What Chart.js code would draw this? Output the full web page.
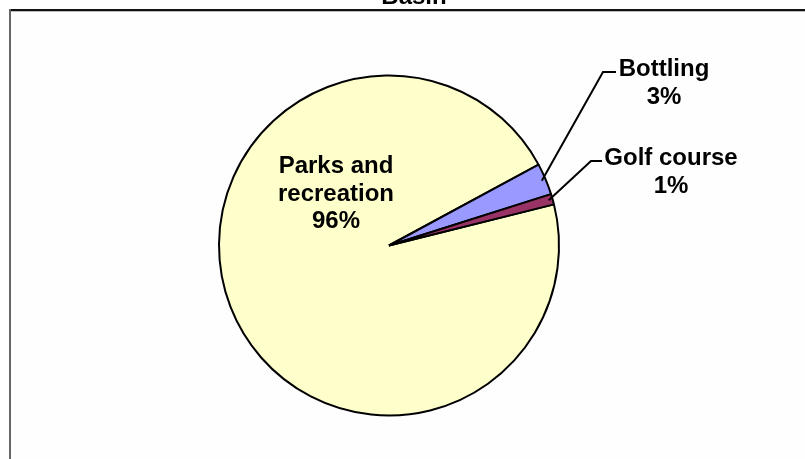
<!DOCTYPE html>
<html>
<head>
<meta charset="utf-8">
<script src="https://cdn.jsdelivr.net/npm/chart.js@4/dist/chart.umd.min.js"></script>
<style>
  html, body { margin: 0; padding: 0; background: #ffffff; }
  #wrap { position: relative; width: 805px; height: 459px; }
</style>
</head>
<body>
<div id="wrap"><canvas id="pieChart" width="805" height="459"></canvas></div>
<script>
// data
const titleText = 'Basin';
const categories = ['Parks and recreation', 'Bottling', 'Golf course'];
const shares = [96, 3, 1];
const sliceColors = ['#FFFFCC', '#9999FF', '#993366'];

// label layout: text lines, text centre and leader elbow (x, y)
const labelLayout = [
    { lines: ['Parks and', 'recreation', '96%'], x: 336, y: 173, leader: null },
    { lines: ['Bottling', '3%'], x: 664, y: 76, leader: { x: 603, y: 72, endX: 616 } },
    { lines: ['Golf course', '1%'], x: 671, y: 165, leader: { x: 591, y: 161, endX: 602 } }
];

const frame = {
    id: 'frame',
    beforeDraw(chart) {
        const ctx = chart.ctx;
        ctx.save();
        ctx.fillStyle = '#fefefe';
        ctx.fillRect(10, 10, chart.width - 10, chart.height - 10);
        ctx.fillStyle = '#111111';
        ctx.fillRect(10, 9, chart.width - 10, 2);
        ctx.fillStyle = '#bbbbbb';
        ctx.fillRect(10, 11, chart.width - 10, 1);
        ctx.fillStyle = '#666666';
        ctx.fillRect(9, 9, 2, chart.height - 9);
        ctx.restore();
    }
};

const sliceLabels = {
    id: 'sliceLabels',
    afterDraw(chart) {
        const ctx = chart.ctx;
        const arcs = chart.getDatasetMeta(0).data;
        ctx.save();
        ctx.font = 'bold 24px "Liberation Sans", Arial, sans-serif';
        ctx.fillStyle = '#000000';
        ctx.textAlign = 'center';
        ctx.textBaseline = 'alphabetic';
        ctx.fillText(titleText, 414, 4);
        labelLayout.forEach((lab, i) => {
            lab.lines.forEach((line, j) => ctx.fillText(line, lab.x, lab.y + j * 27.5));
            if (lab.leader) {
                const a = arcs[i];
                const mid = (a.startAngle + a.endAngle) / 2;
                const r = a.outerRadius - 4;
                ctx.beginPath();
                ctx.strokeStyle = '#000000';
                ctx.lineWidth = 2;
                ctx.moveTo(a.x + Math.cos(mid) * r, a.y + Math.sin(mid) * r);
                ctx.lineTo(lab.leader.x, lab.leader.y);
                ctx.lineTo(lab.leader.endX, lab.leader.y);
                ctx.stroke();
            }
        });
        ctx.restore();
    }
};

new Chart(document.getElementById('pieChart'), {
    type: 'pie',
    data: {
        labels: categories,
        datasets: [{
            data: shares,
            backgroundColor: sliceColors,
            borderColor: '#000000',
            borderWidth: 2
        }]
    },
    options: {
        responsive: false,
        animation: false,
        rotation: 76,
        layout: { padding: { left: 218, right: 245, top: 74, bottom: 42 } },
        plugins: {
            legend: { display: false },
            tooltip: { enabled: false }
        }
    },
    plugins: [frame, sliceLabels]
});
</script>
</body>
</html>
